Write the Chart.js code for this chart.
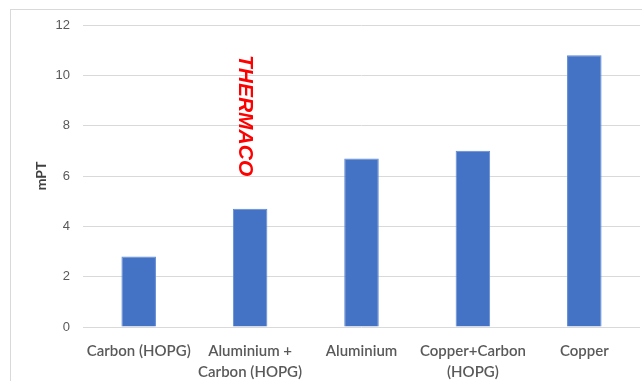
<!DOCTYPE html>
<html>
<head>
<meta charset="utf-8">
<script src="https://cdn.jsdelivr.net/npm/chart.js@4/dist/chart.umd.min.js"></script>
<style>
  html, body { margin: 0; padding: 0; background: #ffffff; }
  #wrap { position: relative; width: 642px; height: 381px; overflow: hidden; }
  #frame { position: absolute; left: 10px; top: 9px; width: 700px; height: 400px; border: 1px solid #d9d9d9; box-sizing: border-box; }
  canvas { position: absolute; left: 0; top: 0; }
</style>
</head>
<body>
<div id="wrap">
  <div id="frame"></div>
  <canvas id="c" width="642" height="381"></canvas>
</div>
<script>
// Materials tested and the measured field (mPT)
const categories = [
  'Carbon (HOPG)',
  ['Aluminium +', 'Carbon (HOPG)'],
  'Aluminium',
  ['Copper+Carbon', '(HOPG)'],
  'Copper'
];
const fieldValues = [2.8, 4.7, 6.7, 7.0, 10.8];
const yTicks = [0, 2, 4, 6, 8, 10, 12];
const axisTitle = 'mPT';
const stampText = 'THERMACO';

const FONT = "'Liberation Sans', Arial, sans-serif";
const LABEL_FONT = "Lato, 'Liberation Sans', sans-serif";

// Red vertical stamp drawn over the plot
const stampPlugin = {
  id: 'stamp',
  afterDatasetsDraw(chart) {
    const { ctx, scales } = chart;
    const x = scales.x.getPixelForValue(1) - 5;
    const y = scales.y.getPixelForValue(8.4);
    ctx.save();
    ctx.translate(x, y);
    ctx.rotate(Math.PI / 2);
    ctx.fillStyle = '#ff0000';
    ctx.font = "italic bold 21px " + FONT;
    ctx.textAlign = 'center';
    ctx.textBaseline = 'middle';
    ctx.fillText(stampText, 0, 0);
    ctx.restore();
  }
};

new Chart(document.getElementById('c'), {
  type: 'bar',
  data: {
    labels: categories,
    datasets: [{
      data: fieldValues,
      backgroundColor: '#4472c4',
      borderColor: '#5f8ad6',
      borderWidth: 1,
      barPercentage: 0.31,
      categoryPercentage: 1.0
    }]
  },
  options: {
    responsive: false,
    animation: false,
    devicePixelRatio: 1,
    layout: { padding: { top: 25, right: 2, left: 0, bottom: 0 } },
    plugins: {
      legend: { display: false },
      tooltip: { enabled: false }
    },
    scales: {
      x: {
        grid: { display: false },
        border: { display: false },
        ticks: {
          color: '#595959',
          font: { family: LABEL_FONT, size: 15, weight: 600, lineHeight: 1.4 },
          padding: 6,
          maxRotation: 0,
          autoSkip: false
        },
        afterFit(scale) { scale.height = 54; }
      },
      y: {
        min: 0,
        max: 12,
        afterBuildTicks(scale) { scale.ticks = yTicks.map(v => ({ value: v })); },
        grid: { color: '#d9d9d9', lineWidth: 1, drawTicks: false },
        border: { display: false },
        ticks: {
          color: '#595959',
          font: { family: FONT, size: 13 },
          padding: 13
        },
        title: {
          display: true,
          text: axisTitle,
          color: '#404040',
          font: { family: LABEL_FONT, size: 14, weight: 'bold' },
          padding: { top: 33, bottom: 0 }
        },
        afterFit(scale) { scale.width = 83; }
      }
    }
  },
  plugins: [stampPlugin]
});
</script>
</body>
</html>
